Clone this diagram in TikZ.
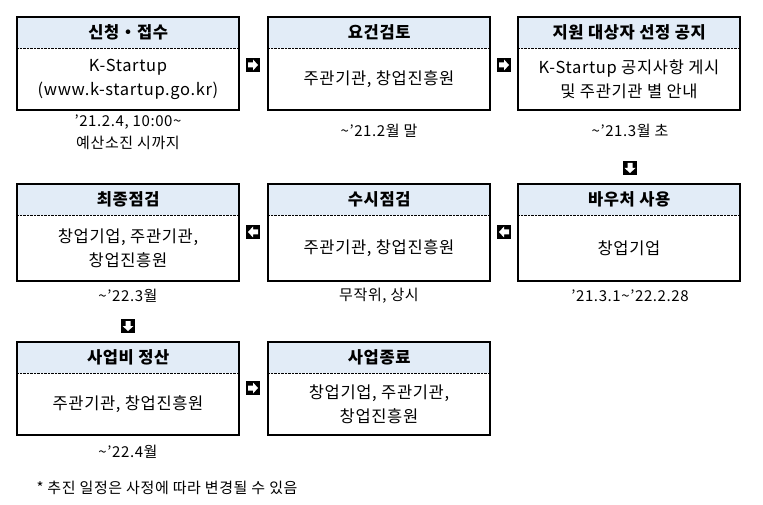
\documentclass[tikz,border=0pt]{standalone}
\usepackage{fontspec}
\setmainfont[LetterSpace=4]{Noto Sans CJK KR}
\definecolor{hdblue}{RGB}{226,236,247}
\begin{document}
\begin{tikzpicture}[x=1pt,y=-1pt,
 hd/.style={fill=hdblue,minimum width=222pt,minimum height=31pt,anchor=north west,font=\fontsize{16.5}{18}\selectfont\bfseries,inner sep=0pt},
 bd/.style={align=center,font=\fontsize{16.5}{24}\selectfont},
 note/.style={align=center,font=\fontsize{15}{22}\selectfont},
 arr/.style={fill=black,minimum size=14pt,inner sep=0pt,path picture={
   \fill[white] ([xshift=-5pt,yshift=-2.5pt]path picture bounding box.center) -- ++(5pt,0) -- ++(0,-3pt) -- ++(5pt,5.5pt) -- ++(-5pt,5.5pt) -- ++(0,-3pt) -- ++(-5pt,0) -- cycle;}}]
\useasboundingbox (0,0) rectangle (763,505);
\newcommand{\mybox}[6]{%
 \node[hd] (#1h) at (#2,#3) {#5};
 \draw[densely dotted] (#2,#3+31) -- (#2+222,#3+31);
 \draw[line width=1.6pt] (#2,#3) rectangle (#2+222,#4);
 \node[bd] (#1b) at (#2+111,{(#3+31+#4)/2}) {#6};}
\mybox{a}{17}{17}{110}{신청・접수}{K-Startup\\(www.k-startup.go.kr)}
\mybox{b}{268}{17}{110}{요건검토}{주관기관, 창업진흥원}
\mybox{c}{518}{17}{110}{지원 대상자 선정 공지}{K-Startup 공지사항 게시\\및 주관기관 별 안내}
\mybox{d}{17}{184}{281}{최종점검}{창업기업, 주관기관,\\창업진흥원}
\mybox{e}{268}{184}{281}{수시점검}{주관기관, 창업진흥원}
\mybox{f}{518}{184}{281}{바우처 사용}{창업기업}
\mybox{g}{17}{342}{435}{사업비 정산}{주관기관, 창업진흥원}
\mybox{h}{268}{342}{435}{사업종료}{창업기업, 주관기관,\\창업진흥원}
\node[note] (na) at (128,132) {’21.2.4, 10:00\textasciitilde\\예산소진 시까지};
\node[note] (nb) at (379,131) {\textasciitilde’21.2월 말};
\node[note] (nc) at (630,131) {\textasciitilde’21.3월 초};
\node[note] (nd) at (128,296) {\textasciitilde’22.3월};
\node[note] (ne) at (379,296) {무작위, 상시};
\node[note] (nf) at (630,296) {’21.3.1\textasciitilde’22.2.28};
\node[note] (ng) at (128,452) {\textasciitilde’22.4월};
\node[note,anchor=west] (star) at (33,488) {* 추진 일정은 사정에 따라 변경될 수 있음};
\node[arr] (r1) at (253,65) {};
\node[arr] (r2) at (504,65) {};
\node[arr,rotate=-90] (r3) at (630,168) {};
\node[arr,rotate=180] (r4) at (504,232) {};
\node[arr,rotate=180] (r5) at (253,232) {};
\node[arr,rotate=-90] (r6) at (128,326) {};
\node[arr] (r7) at (253,388) {};
\end{tikzpicture}
\end{document}
